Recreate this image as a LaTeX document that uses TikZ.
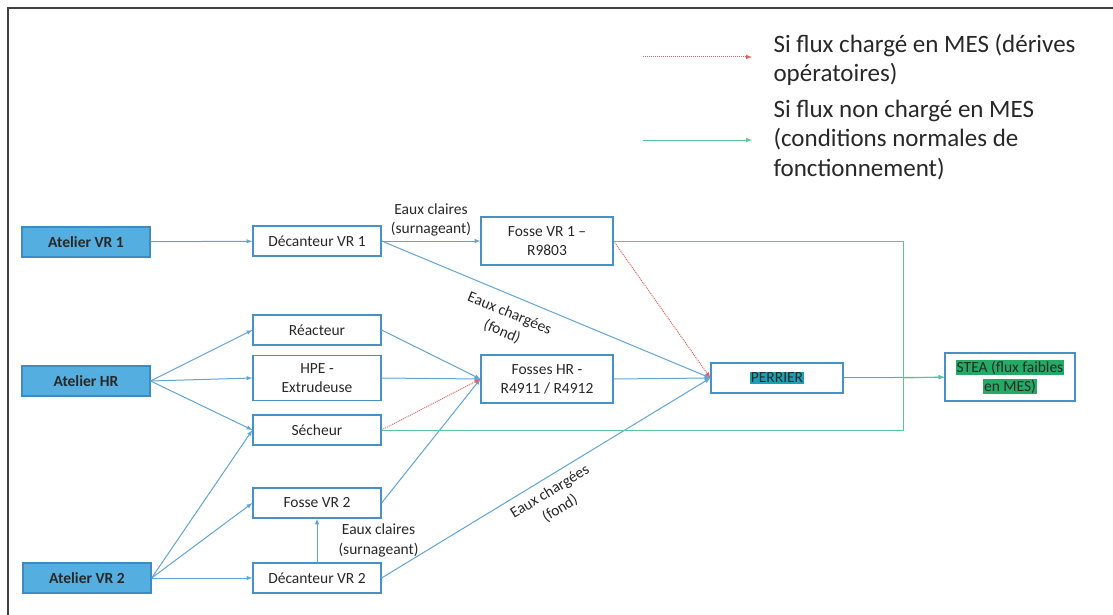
\documentclass[tikz,border=0pt]{standalone}
\usepackage{fontspec}
\setmainfont{Carlito}
\usepackage{tikz}
\usetikzlibrary{arrows}
\definecolor{srcblue}{RGB}{84,174,224}
\definecolor{srcedge}{RGB}{60,140,195}
\definecolor{boxblue}{RGB}{70,145,200}
\definecolor{flowblue}{RGB}{95,165,215}
\definecolor{greenl}{RGB}{85,200,150}
\definecolor{redl}{RGB}{230,95,95}
\definecolor{perrhl}{RGB}{30,160,180}
\definecolor{steahl}{RGB}{35,170,100}
\definecolor{txt}{RGB}{40,40,40}
\setlength{\fboxsep}{1pt}

\begin{document}
\begin{tikzpicture}[x=1pt,y=1pt,
  box/.style={draw=boxblue, line width=1.2pt, minimum width=128pt, minimum height=30pt,
    align=center, inner sep=2pt, text=txt, font=\fontsize{15.5}{19}\selectfont},
  src/.style={box, fill=srcblue, draw=srcedge, font=\fontsize{15.5}{19}\selectfont\bfseries},
  tall/.style={box, minimum width=132pt, minimum height=48pt},
  lbl/.style={font=\fontsize{15.5}{19.5}\selectfont, align=center, inner sep=1pt, text=txt},
  leg/.style={font=\fontsize{25}{29.5}\selectfont, align=left, anchor=west, text=txt},
  flow/.style={color=flowblue, line width=1pt, -latex},
  loaded/.style={color=redl, densely dotted, line width=1pt, -latex},
  gflow/.style={color=greenl, line width=1pt}]
  \useasboundingbox (0,0) rectangle (1113,-615);
  \draw[gray!50!black, line width=1.2pt] (1113,-8) -- (8,-8) -- (8,-615);

  % legend
  \coordinate (lr0) at (643,-57);
  \coordinate (lr1) at (752,-57);
  \coordinate (lg0) at (643,-140);
  \coordinate (lg1) at (752,-140);
  \draw[loaded] (lr0) -- (lr1);
  \draw[gflow, -latex] (lg0) -- (lg1);
  \node[leg] (legr) at (770,-60) {Si flux chargé en MES (dérives\\opératoires)};
  \node[leg] (legg) at (770,-140) {Si flux non chargé en MES\\(conditions normales de\\fonctionnement)};

  % ateliers
  \node[src] (avr1) at (86,-242) {Atelier VR 1};
  \node[src] (ahr) at (86,-381) {Atelier HR};
  \node[src] (avr2) at (87,-578) {Atelier VR 2};

  % equipements
  \node[box] (dvr1) at (317,-241) {Décanteur VR 1};
  \node[box] (reac) at (317,-330) {Réacteur};
  \node[box, minimum height=45pt] (hpe) at (317,-378) {HPE -\\Extrudeuse};
  \node[box] (sech) at (317,-430) {Sécheur};
  \node[box] (fvr2) at (317,-503) {Fosse VR 2};
  \node[box] (dvr2) at (317,-578) {Décanteur VR 2};

  % fosses et sorties
  \node[tall] (fvr1) at (547,-241) {Fosse VR 1 –\\R9803};
  \node[tall] (fhr) at (547,-379) {Fosses HR -\\R4911 / R4912};
  \node[box, minimum width=132pt] (perr) at (777,-378) {\colorbox{perrhl}{PERRIER}};
  \node[tall, minimum width=130pt] (stea) at (1010,-377)
    {\colorbox{steahl}{STEA (flux faibles}\\\colorbox{steahl}{en MES)}};
  \coordinate (jn) at (903,-378);

  \path[flow]
    (avr1) edge (dvr1)
    (dvr1) edge node[lbl, above=3pt] {Eaux claires\\(surnageant)} (fvr1)
    (dvr1.east) edge node[lbl, sloped, below=10pt, pos=0.41] {Eaux chargées\\(fond)} (perr.west)
    (ahr.east) edge (reac.west)
    (ahr.east) edge (hpe.west)
    (ahr.east) edge (sech.west)
    (avr2.east) edge (sech.west)
    (avr2.east) edge (fvr2.west)
    (avr2.east) edge (dvr2.west)
    (dvr2) edge node[lbl, right=20pt] {Eaux claires\\(surnageant)} (fvr2)
    (dvr2.east) edge node[lbl, sloped, below=6pt, pos=0.49] {Eaux chargées\\(fond)} (perr.west)
    (reac.east) edge (fhr.west)
    (hpe.east) edge (fhr.west)
    (fvr2.east) edge (fhr.west)
    (fhr.east) edge (perr.west)
    (perr) edge (stea);

  \path[loaded]
    (sech.east) edge (fhr.west)
    (fvr1.east) edge (perr.west);

  \draw[gflow] (fvr1.east) -| (jn);
  \draw[gflow] (sech.east) -| (jn);
  \draw[gflow, -latex] (jn) -- (stea.west);
\end{tikzpicture}
\end{document}
